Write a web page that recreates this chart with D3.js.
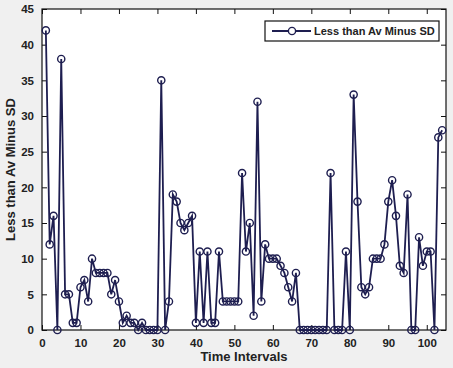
<!DOCTYPE html>
<html>
<head>
<script src="https://d3js.org/d3.v7.min.js"></script>
<style>
  body { margin: 0; background: #f0f0f0; }
  text { font-family: "Liberation Sans", Arial, sans-serif; font-weight: bold; fill: #222; }
</style>
</head>
<body>
<div id="chart"></div>
<script>
// time intervals 1..104
const values = [42, 12, 16, 0, 38, 5, 5, 1, 1, 6,
                7, 4, 10, 8, 8, 8, 8, 5, 7, 4,
                1, 2, 1, 1, 0, 1, 0, 0, 0, 0,
                35, 0, 4, 19, 18, 15, 14, 15, 16, 1,
                11, 1, 11, 1, 1, 11, 4, 4, 4, 4,
                4, 22, 11, 15, 2, 32, 4, 12, 10, 10,
                10, 9, 8, 6, 4, 8, 0, 0, 0, 0,
                0, 0, 0, 0, 22, 0, 0, 0, 11, 0,
                33, 18, 6, 5, 6, 10, 10, 10, 12, 18,
                21, 16, 9, 8, 19, 0, 0, 13, 9, 11,
                11, 0, 27, 28];
const times = values.map((v, i) => i + 1);
const xTicks = [0, 10, 20, 30, 40, 50, 60, 70, 80, 90, 100];
const yTicks = [0, 5, 10, 15, 20, 25, 30, 35, 40, 45];
const seriesName = "Less than Av Minus SD";

const width = 453, height = 368;
const margin = { top: 9, right: 7, bottom: 38, left: 42 };
const lineColor = "#1e1e50";

const svg = d3.select("#chart").append("svg")
  .attr("width", width).attr("height", height);

const x = d3.scaleLinear().domain([0, 105])
  .range([margin.left, width - margin.right]);
const y = d3.scaleLinear().domain([0, 45])
  .range([height - margin.bottom, margin.top]);

// plot area
svg.append("rect")
  .attr("x", x(0)).attr("y", y(45))
  .attr("width", x(105) - x(0)).attr("height", y(0) - y(45))
  .attr("fill", "#fff");

// axes with inward ticks
const axisStyle = g => {
  g.select(".domain").remove();
  g.selectAll("line").attr("stroke", "#111").attr("stroke-width", 1);
  g.selectAll("text").attr("font-size", 11.5).attr("fill", "#222");
};
svg.append("g").attr("transform", `translate(0,${y(0)})`)
  .call(d3.axisBottom(x).tickValues(xTicks).tickSizeInner(-5).tickPadding(9))
  .call(axisStyle);
svg.append("g").attr("transform", `translate(0,${y(45)})`)
  .call(d3.axisTop(x).tickValues(xTicks).tickSizeInner(-5).tickFormat(""))
  .call(axisStyle);
svg.append("g").attr("transform", `translate(${x(0)},0)`)
  .call(d3.axisLeft(y).tickValues(yTicks).tickSizeInner(-5).tickPadding(8))
  .call(axisStyle);
svg.append("g").attr("transform", `translate(${x(105)},0)`)
  .call(d3.axisRight(y).tickValues(yTicks).tickSizeInner(-5).tickFormat(""))
  .call(axisStyle);

svg.append("rect")
  .attr("x", x(0)).attr("y", y(45))
  .attr("width", x(105) - x(0)).attr("height", y(0) - y(45))
  .attr("fill", "none").attr("stroke", "#111").attr("stroke-width", 1.2);

// series
const line = d3.line().x((d, i) => x(times[i])).y(d => y(d));
svg.append("path").datum(values)
  .attr("d", line)
  .attr("fill", "none").attr("stroke", lineColor).attr("stroke-width", 1.8);

svg.selectAll("circle.pt").data(values).enter().append("circle")
  .attr("class", "pt")
  .attr("cx", (d, i) => x(times[i])).attr("cy", d => y(d))
  .attr("r", 3.6)
  .attr("fill", "none").attr("stroke", lineColor).attr("stroke-width", 1.4);

// legend
const lg = svg.append("g").attr("transform", "translate(265,21)");
lg.append("rect").attr("width", 174).attr("height", 20)
  .attr("fill", "#fff").attr("stroke", "#111").attr("stroke-width", 1.2);
lg.append("line").attr("x1", 7).attr("x2", 46).attr("y1", 10).attr("y2", 10)
  .attr("stroke", lineColor).attr("stroke-width", 1.8);
lg.append("circle").attr("cx", 27).attr("cy", 10).attr("r", 3.6)
  .attr("fill", "#fff").attr("stroke", lineColor).attr("stroke-width", 1.4);
lg.append("text").attr("x", 49).attr("y", 14).attr("font-size", 11)
  .text(seriesName);

// axis titles
svg.append("text")
  .attr("x", (x(0) + x(105)) / 2).attr("y", 361)
  .attr("text-anchor", "middle").attr("font-size", 13)
  .text("Time Intervals");
svg.append("text")
  .attr("transform", `translate(15,${(y(0) + y(45)) / 2}) rotate(-90)`)
  .attr("text-anchor", "middle").attr("font-size", 13)
  .text(seriesName);
</script>
</body>
</html>
